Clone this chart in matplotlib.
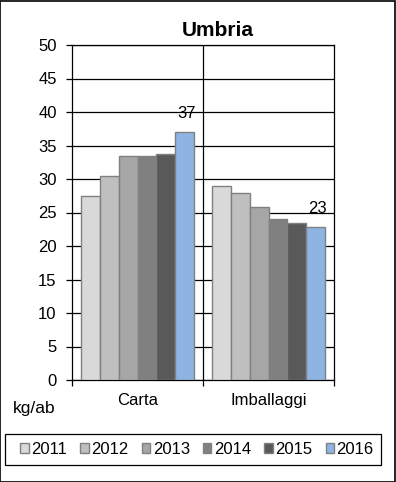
import numpy as np
import matplotlib
matplotlib.use('Agg')
import matplotlib.pyplot as plt
from matplotlib.patches import Rectangle

plt.rcParams['font.family'] = ['Liberation Sans', 'DejaVu Sans']

# dati
categorie = ['Carta', 'Imballaggi']
anni = ['2011', '2012', '2013', '2014', '2015', '2016']
valori = {
    '2011': [27.4, 29.0],
    '2012': [30.4, 27.9],
    '2013': [33.5, 25.8],
    '2014': [33.5, 24.1],
    '2015': [33.8, 23.5],
    '2016': [37.0, 22.8],
}
etichette_2016 = ['37', '23']
colori = ['#D9D9D9', '#BFBFBF', '#A6A6A6', '#808080', '#595959', '#8EB4E3']

W, H = 396, 482
fig = plt.figure(figsize=(W / 100, H / 100), dpi=100)
ax = fig.add_axes([72 / W, 1 - 380 / H, 262 / W, 335 / H])

x = np.arange(len(categorie))
w = 0.1425
for i, anno in enumerate(anni):
    pos = x + (i - 2.5) * w
    bars = ax.bar(pos, valori[anno], width=w, color=colori[i],
                  edgecolor='#808080', linewidth=1.0, label=anno, zorder=3)
    if anno == '2016':
        for b, txt in zip(bars, etichette_2016):
            ax.annotate(txt, (b.get_x() + b.get_width() / 2, b.get_height()),
                        xytext=(1.5, 13.5), textcoords='offset points',
                        ha='center', va='center', fontsize=12, zorder=4)

ax.set_xlim(-0.5, 1.5)
ax.set_ylim(0, 50)
ax.set_yticks(np.arange(0, 51, 5))
ax.yaxis.grid(True, color='black', linewidth=0.9, zorder=1)
ax.axvline(0.5, color='black', linewidth=0.9, zorder=1)

ax.set_xticks(x)
ax.set_xticklabels(categorie, fontsize=12)
ax.set_xticks([-0.5, 0.5, 1.5], minor=True)
ax.tick_params(axis='x', which='major', length=0, pad=9.5)
ax.tick_params(axis='x', which='minor', length=4, width=0.9, direction='out')
ax.tick_params(axis='y', length=4, width=0.9, direction='out', pad=7, labelsize=12)

for s in ax.spines.values():
    s.set_color('black')
    s.set_linewidth(0.9)

fig.text(218 / W, 1 - 31 / H, 'Umbria', ha='center', va='center',
         fontsize=15, fontweight='bold')
fig.text(34.5 / W, 1 - 408 / H, 'kg/ab', ha='center', va='center', fontsize=12.5)

# legenda
fig.legend(loc='center', bbox_to_anchor=(197 / W, 1 - 449.5 / H),
           ncol=6, fontsize=12, frameon=False,
           handlelength=0.5, handleheight=0.5,
           handletextpad=0.15, columnspacing=0.8, borderpad=0)
fig.patches.append(Rectangle((5 / W, 1 - 465 / H), 376 / W, 31 / H, transform=fig.transFigure,
                             fill=False, edgecolor='black', linewidth=0.9))

# bordo esterno
fig.patches.append(Rectangle((0.001, 0.001), 0.997, 0.997, transform=fig.transFigure,
                             fill=False, edgecolor='black', linewidth=1.2))

fig.savefig('out.png', dpi=100)
